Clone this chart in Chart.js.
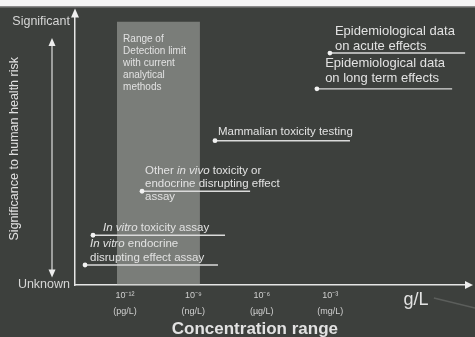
<!DOCTYPE html>
<html>
<head>
<meta charset="utf-8">
<script src="https://cdn.jsdelivr.net/npm/chart.js@4.4.0/dist/chart.umd.min.js"></script>
<style>
  html, body { margin: 0; padding: 0; background: #3d403d; }
  #wrap { width: 475px; height: 337px; }
</style>
</head>
<body>
<div id="wrap"><canvas id="myChart"></canvas></div>
<script>
// x values are log10(g/L), y is a 0..10 significance score
const tickValues = [-12, -9, -6, -3];
const tickExp = ['10\u207B\u00B9\u00B2', '10\u207B\u2079', '10\u207B\u2076', '10\u207B\u00B3'];
const tickUnits = ['(pg/L)', '(ng/L)', '(\u00B5g/L)', '(mg/L)'];

// detection limit range (log10 g/L)
const detectionRange = [-12.35, -8.71];

// test types: line from / to (log10 g/L) and significance level
const testNames = ['acute', 'longTerm', 'mammalian', 'inVivo', 'inVitroTox', 'inVitroEndo'];
const testFrom = [-3.01, -3.58, -8.05, -11.25, -13.40, -13.75];
const testTo = [2.92, 2.35, -2.13, -6.51, -7.61, -7.92];
const testLevel = [8.81, 7.45, 5.48, 3.56, 1.89, 0.76];

// annotation texts (x, y of first line in data units), *..* = italic
const noteLines = [
    ['Epidemiological data', 'on acute effects'],
    ['Epidemiological data', 'on long term effects'],
    ['Mammalian toxicity testing'],
    ['Other *in vivo* toxicity or', 'endocrine disrupting effect', 'assay'],
    ['*In vitro* toxicity assay'],
    ['*In vitro* endocrine', 'disrupting effect assay'],
    ['Range of', 'Detection limit', 'with current', 'analytical', 'methods']
];
const noteX = [-2.79, -3.22, -7.92, -11.12, -12.96, -13.53, -12.08];
const noteY = [9.64, 8.40, 5.82, 4.35, 2.16, 1.55, 9.34];
const noteSize = [13, 13, 11.5, 11.5, 11.5, 11.5, 10];
const noteStep = [0.57, 0.57, 0, 0.5, 0, 0.53, 0.455];

const textColor = '#e2e2e2';
const lineColor = '#dadada';

var datasets = [{
    label: 'range',
    data: [{ x: detectionRange[0], y: 10 }, { x: detectionRange[1], y: 10 }],
    borderWidth: 0,
    pointRadius: 0,
    fill: 'start',
    backgroundColor: 'rgba(190, 193, 188, 0.48)',
    order: 10
}];

testNames.forEach((name, i) => {
    datasets.push({
        label: name,
        data: [{ x: testFrom[i], y: testLevel[i] }, { x: testTo[i], y: testLevel[i] }],
        borderColor: lineColor,
        borderWidth: 1.4,
        pointRadius: [2.4, 0],
        pointBackgroundColor: '#f2f2f2',
        pointBorderWidth: 0,
        fill: false,
        order: 1
    });
});

function drawRich(ctx, str, x, y, size) {
    const parts = str.split('*');
    let cx = x;
    parts.forEach((p, k) => {
        ctx.font = (k % 2 ? 'italic ' : '') + size + 'px "Liberation Sans", Arial, sans-serif';
        ctx.fillText(p, cx, y);
        cx += ctx.measureText(p).width;
    });
}

const decorPlugin = {
    id: 'decor',
    beforeDraw(chart) {
        const ctx = chart.ctx;
        ctx.save();
        ctx.fillStyle = '#3d403d';
        ctx.fillRect(0, 0, chart.width, chart.height);
        ctx.fillStyle = '#f4f4f4';
        ctx.fillRect(0, 0, chart.width, 6);
        ctx.fillStyle = '#8a8a8a';
        ctx.fillRect(0, 6, chart.width, 1.5);
        ctx.restore();
    },
    afterDatasetsDraw(chart) {
        const ctx = chart.ctx;
        const xs = chart.scales.x, ys = chart.scales.y;
        const a = chart.chartArea;
        ctx.save();

        // axis arrow heads
        ctx.fillStyle = '#eeeeee';
        ctx.beginPath();
        ctx.moveTo(a.right + 4, a.bottom);
        ctx.lineTo(a.right - 4, a.bottom - 4);
        ctx.lineTo(a.right - 4, a.bottom + 4);
        ctx.fill();
        ctx.beginPath();
        ctx.moveTo(a.left, a.top - 4);
        ctx.lineTo(a.left - 4, a.top + 5);
        ctx.lineTo(a.left + 4, a.top + 5);
        ctx.fill();

        // double arrow beside the y axis
        const ax = a.left - 23;
        const yTop = ys.getPixelForValue(9.27), yBot = ys.getPixelForValue(0.4);
        ctx.strokeStyle = '#e0e0e0';
        ctx.lineWidth = 1.2;
        ctx.beginPath();
        ctx.moveTo(ax, yTop);
        ctx.lineTo(ax, yBot);
        ctx.stroke();
        ctx.beginPath();
        ctx.moveTo(ax, yTop - 3);
        ctx.lineTo(ax - 3.5, yTop + 5);
        ctx.lineTo(ax + 3.5, yTop + 5);
        ctx.fill();
        ctx.beginPath();
        ctx.moveTo(ax, yBot + 3);
        ctx.lineTo(ax - 3.5, yBot - 5);
        ctx.lineTo(ax + 3.5, yBot - 5);
        ctx.fill();

        // annotation texts
        ctx.fillStyle = textColor;
        ctx.textBaseline = 'middle';
        ctx.textAlign = 'left';
        noteLines.forEach((lines, i) => {
            lines.forEach((t, j) => {
                const px = xs.getPixelForValue(noteX[i]);
                const py = ys.getPixelForValue(noteY[i] - j * noteStep[i]);
                drawRich(ctx, t, px, py, noteSize[i]);
            });
        });

        // unit and axis title
        ctx.font = '18px "Liberation Sans", Arial, sans-serif';
        ctx.textAlign = 'center';
        ctx.fillText('g/L', xs.getPixelForValue(0.77), a.bottom + 15);
        ctx.strokeStyle = 'rgba(200,200,200,0.22)';
        ctx.lineWidth = 1.5;
        ctx.beginPath();
        ctx.moveTo(xs.getPixelForValue(1.55), a.bottom + 13);
        ctx.lineTo(chart.width, a.bottom + 23);
        ctx.stroke();
        ctx.font = 'bold 17px "Liberation Sans", Arial, sans-serif';
        ctx.fillText('Concentration range', xs.getPixelForValue(-6.3), a.bottom + 44);
        ctx.restore();
    }
};

var ChartCanvas = document.getElementById('myChart');
var myChart = new Chart(ChartCanvas, {
    type: 'line',
    data: { datasets: datasets },
    plugins: [decorPlugin],
    options: {
        responsive: true,
        maintainAspectRatio: false,
        animation: false,
        layout: { padding: { top: 12, right: 6, left: 0, bottom: 0 } },
        plugins: {
            legend: { display: false },
            tooltip: { enabled: false }
        },
        scales: {
            x: {
                type: 'linear',
                min: -14.19,
                max: 3.09,
                afterBuildTicks: s => { s.ticks = tickValues.map(v => ({ value: v })); },
                afterFit: s => { s.height = 52; },
                ticks: {
                    callback: v => {
                        const i = tickValues.indexOf(v);
                        return [tickExp[i], tickUnits[i]];
                    },
                    color: '#cfcfcf',
                    font: { size: 9, family: '"Liberation Sans", Arial, sans-serif', lineHeight: 1.8 },
                    padding: 2,
                    maxRotation: 0,
                    autoSkip: false
                },
                grid: { display: false, drawTicks: false },
                border: { color: '#e6e6e6', width: 1.5 }
            },
            y: {
                min: 0,
                max: 10.35,
                afterBuildTicks: s => { s.ticks = [{ value: 0 }, { value: 10 }]; },
                afterFit: s => { s.width = 75; },
                ticks: {
                    callback: v => v === 10 ? 'Significant' : 'Unknown',
                    color: '#d6d6d6',
                    font: { size: 12.5, family: '"Liberation Sans", Arial, sans-serif' },
                    padding: 5
                },
                grid: { display: false, drawTicks: false },
                border: { color: '#e6e6e6', width: 1.5 },
                title: {
                    display: true,
                    text: 'Significance to human health risk',
                    color: '#e0e0e0',
                    font: { size: 12.5, family: '"Liberation Sans", Arial, sans-serif' },
                    padding: { top: 7, bottom: 0 }
                }
            }
        }
    }
});
</script>
</body>
</html>
